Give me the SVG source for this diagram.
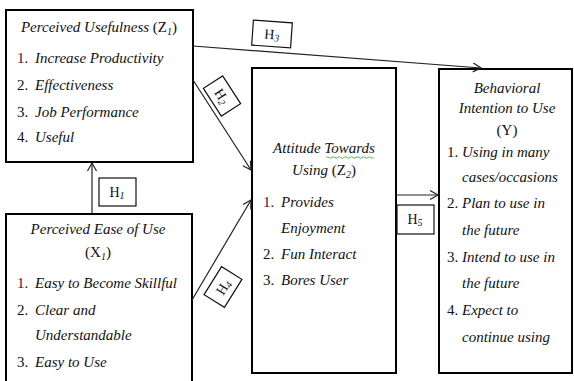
<svg xmlns="http://www.w3.org/2000/svg" width="574" height="381" viewBox="0 0 574 381">
<defs>
<marker id="arr" markerUnits="userSpaceOnUse" markerWidth="12" markerHeight="12" viewBox="0 0 12 12" refX="10" refY="6" orient="auto">
<path d="M2,1.5 L10,6 L2,10.5" fill="none" stroke="#222" stroke-width="1.2"/>
</marker>
</defs>
<style>
.box{fill:#fff;stroke:#000;stroke-width:2}
.lbl{fill:#fff;stroke:#111;stroke-width:1.2}
.edge{stroke:#222;stroke-width:1.2;fill:none;marker-end:url(#arr)}
text{font-family:"Liberation Serif","Times New Roman",serif;font-size:15px;fill:#111}
.i{font-style:italic}
.c{text-anchor:middle}
.m{fill:#4a1430}
.r{font-style:normal}
.sub{font-size:10px;font-style:italic}
.h{font-size:14px}
</style>
<rect width="574" height="381" fill="#fff"/>

<g id="Z1">
<rect class="box" x="6" y="10" width="187" height="152"/>
<text class="i c" x="99" y="32">Perceived Usefulness <tspan class="r">(Z</tspan><tspan class="sub" dy="3">1</tspan><tspan class="r" dy="-3">)</tspan></text>
<text x="17" y="63" class="m">1.</text><text class="i" x="35" y="63">Increase Productivity</text>
<text x="17" y="90">2.</text><text class="i" x="35" y="90">Effectiveness</text>
<text x="17" y="117">3.</text><text class="i" x="35" y="117">Job Performance</text>
<text x="17" y="142">4.</text><text class="i" x="35" y="142">Useful</text>
</g>

<g id="X1">
<path class="box" d="M6,390 V214 H192 V390"/>
<text class="i c" x="98" y="234">Perceived Ease of Use</text>
<text class="c" x="98" y="257">(X<tspan class="sub" dy="3">1</tspan><tspan dy="-3">)</tspan></text>
<text x="17" y="288" class="m">1.</text><text class="i" x="35" y="288">Easy to Become Skillful</text>
<text x="17" y="315">2.</text><text class="i" x="35" y="315">Clear and</text>
<text class="i" x="35" y="340">Understandable</text>
<text x="17" y="367">3.</text><text class="i" x="35" y="367">Easy to Use</text>
</g>

<g id="Z2">
<rect class="box" x="252" y="68" width="144" height="305"/>
<text class="i c" x="324" y="153">Attitude Towards</text>
<path d="M326,157.5 q1.5,-1.5 3,0 t3,0 t3,0 t3,0 t3,0 t3,0 t3,0 t3,0 t3,0 t3,0 t3,0 t3,0 t3,0 t3,0 t3,0 t3,0" fill="none" stroke="#3a9a3a" stroke-width="0.8"/>
<text class="c" x="324" y="175"><tspan class="i">Using </tspan>(Z<tspan class="sub" dy="3">2</tspan><tspan dy="-3">)</tspan></text>
<text x="263" y="207" class="m">1.</text><text class="i" x="281" y="207">Provides</text>
<text class="i" x="281" y="233">Enjoyment</text>
<text x="263" y="259">2.</text><text class="i" x="281" y="259">Fun Interact</text>
<text x="263" y="285">3.</text><text class="i" x="281" y="285">Bores User</text>
</g>

<g id="Y">
<rect class="box" x="439" y="69" width="133" height="304"/>
<text class="i c" x="507" y="93">Behavioral</text>
<text class="i c" x="507" y="113">Intention to Use</text>
<text class="c" x="507" y="135">(Y)</text>
<text x="447" y="157">1.</text><text class="i" x="462" y="157">Using in many</text>
<text class="i" x="462" y="182">cases/occasions</text>
<text x="447" y="208">2.</text><text class="i" x="462" y="208">Plan to use in</text>
<text class="i" x="462" y="235">the future</text>
<text x="447" y="262">3.</text><text class="i" x="462" y="262">Intend to use in</text>
<text class="i" x="462" y="288">the future</text>
<text x="447" y="315">4.</text><text class="i" x="462" y="315">Expect to</text>
<text class="i" x="462" y="342">continue using</text>
</g>

<g id="connectors">
<line class="edge" x1="92" y1="214" x2="92" y2="163"/>
<line class="edge" x1="193" y1="46" x2="481" y2="68"/>
<line class="edge" x1="193" y1="80" x2="251" y2="170"/>
<line class="edge" x1="192" y1="300" x2="251" y2="200"/>
<line class="edge" x1="396" y1="195" x2="438" y2="195"/>

<g id="H1">
<rect class="lbl" x="99" y="178" width="37" height="28"/>
<text class="h c" x="117" y="197">H<tspan class="sub" dy="2">1</tspan></text>
</g>
<g id="H3" transform="translate(272,34) rotate(4)">
<rect class="lbl" x="-19.5" y="-12.5" width="39" height="25"/>
<text class="h c" x="0" y="5">H<tspan class="sub" dy="2">3</tspan></text>
</g>
<g id="H2" transform="translate(222,96) rotate(57)">
<rect class="lbl" x="-16.5" y="-11.5" width="33" height="23"/>
<text class="h c" x="0" y="5">H<tspan class="sub" dy="2">2</tspan></text>
</g>
<g id="H4" transform="translate(223,287) rotate(-58)">
<rect class="lbl" x="-16.5" y="-12" width="33" height="24"/>
<text class="h c" x="0" y="5">H<tspan class="sub" dy="2">4</tspan></text>
</g>
<g id="H5">
<rect class="lbl" x="397" y="205" width="37" height="29"/>
<text class="h c" x="415" y="224">H<tspan class="sub" dy="2">5</tspan></text>
</g>
</g>
</svg>
